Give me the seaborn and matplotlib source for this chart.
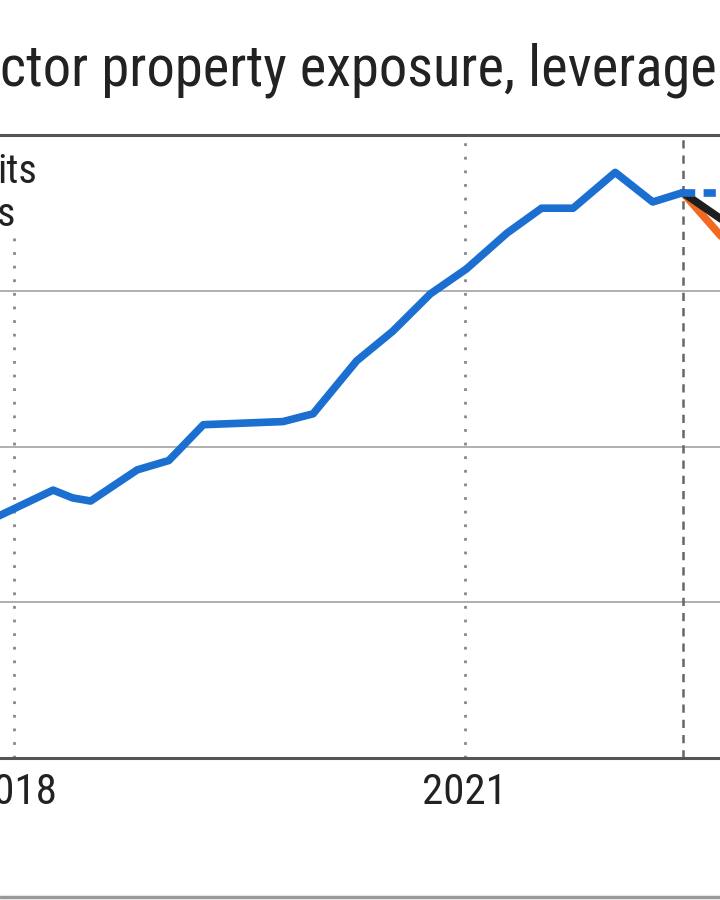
import numpy as np
import pandas as pd
import seaborn as sns
import matplotlib.pyplot as plt
from matplotlib.lines import Line2D

# %% data (decimal years)
hist_x = [2017.76, 2018.26, 2018.39, 2018.51, 2018.82, 2019.03, 2019.26, 2019.79,
          2019.99, 2020.28, 2020.52, 2020.77, 2021.01, 2021.28, 2021.51, 2021.72,
          2022.00, 2022.25, 2022.45]
hist_y = [14.9, 17.2, 16.7, 16.5, 18.5, 19.1, 21.4, 21.6,
          22.1, 25.5, 27.4, 29.8, 31.4, 33.7, 35.3, 35.3,
          37.6, 35.7, 36.3]

proj_x = [2022.45, 2022.75]
flat_y = [36.3, 36.3]
black_y = [36.3, 34.3]
orange_y = [36.3, 33.0]

year_ticks = [2018, 2021]
year_labels = ['2018', '2021']
grid_vals = [10, 20, 30]
title_txt = 'ctor property exposure, leverage'
legend_tails = ['its', 's']

# %% style
sns.set_style('white')
plt.rcParams['font.family'] = ['Roboto Condensed', 'Liberation Sans Narrow', 'DejaVu Sans']

blue = '#1a6fd0'
hist = pd.DataFrame({'year': hist_x, 'value': hist_y})
proj = pd.DataFrame({'year': proj_x, 'flat': flat_y, 'black': black_y, 'orange': orange_y})

fig = plt.figure(figsize=(7.2, 9), dpi=100)
ax = fig.add_axes([0, 1 - 758 / 900, 1, (758 - 135) / 900])

# axis limits so the crop matches: 2018 at x=14px, 150.3 px per year
ax.set_xlim(2018 - 14 / 150.3, 2018 + 706 / 150.3)
ax.set_ylim(0, 40)

for g in grid_vals:
    ax.axhline(g, color='#9a9a9a', lw=1.1, zorder=1)
for yr in year_ticks:
    ax.axvline(yr, color='#888888', lw=2, linestyle=(0, (1, 3.9)), zorder=1)
ax.axvline(hist_x[-1], color='#666666', lw=1.8, linestyle=(0, (3.3, 2.8)), zorder=1)

sns.lineplot(data=proj, x='year', y='orange', ax=ax, color='#f26a21', lw=5.5, zorder=3)
sns.lineplot(data=proj, x='year', y='black', ax=ax, color='#1e1e1e', lw=5.5, zorder=4)
sns.lineplot(data=proj, x='year', y='flat', ax=ax, color=blue, lw=5.5, zorder=5,
             dashes=False, linestyle=(0, (1.6, 1.1)))
sns.lineplot(data=hist, x='year', y='value', ax=ax, color=blue, lw=5.5, zorder=6)

# legend remnant (handles sit off the crop)
ax.text(37 / 720, 1 - (183 - 135) / 623, legend_tails[0], transform=ax.transAxes,
        ha='right', va='baseline', fontsize=29, color='#222222', zorder=7)
ax.text(15 / 720, 1 - (226 - 135) / 623, legend_tails[1], transform=ax.transAxes,
        ha='right', va='baseline', fontsize=29, color='#222222', zorder=7)
ax.add_patch(plt.Rectangle((0, 1 - (232 - 135) / 623), 60 / 720, (232 - 138) / 623,
                           transform=ax.transAxes, facecolor='white', edgecolor='none', zorder=2))

ax.set_xticks(year_ticks)
ax.set_xticklabels(year_labels, fontsize=31, color='#222222')
ax.set_yticks([])
ax.tick_params(axis='x', length=0, pad=10)
ax.set_xlabel('')
ax.set_ylabel('')
for side in ['left', 'right']:
    ax.spines[side].set_visible(False)
for side in ['top', 'bottom']:
    ax.spines[side].set_color('#555555')
    ax.spines[side].set_linewidth(2.2)

fig.text(0, 1 - 85 / 900, title_txt, ha='left', va='baseline', fontsize=40.7, color='#222222')
fig.add_artist(Line2D([0, 1], [3 / 900, 3 / 900], color='#999999', lw=2.5))

fig.savefig('out.png', dpi=100)
